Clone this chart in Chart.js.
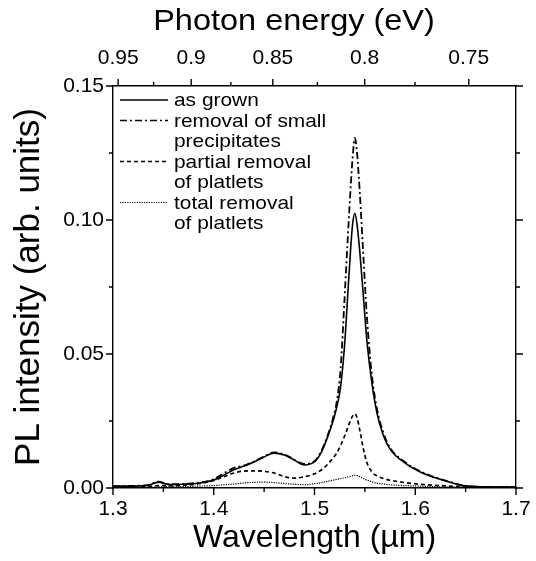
<!DOCTYPE html>
<html>
<head>
<meta charset="utf-8">
<script src="https://cdn.jsdelivr.net/npm/chart.js@4/dist/chart.umd.min.js"></script>
<style>
  html, body { margin: 0; padding: 0; background: #fff; }
  #plot { display: block; }
</style>
</head>
<body>
<canvas id="plot" width="536" height="561"></canvas>
<script>
// Photoluminescence spectra after successive anneal steps
const wavelength = [1.30, 1.32, 1.335, 1.345, 1.355, 1.37, 1.385, 1.40, 1.41, 1.42, 1.43, 1.44, 1.45, 1.46, 1.47, 1.475, 1.48, 1.49, 1.50, 1.507, 1.513, 1.518, 1.522, 1.526, 1.530, 1.533, 1.536, 1.538, 1.540, 1.542, 1.545, 1.548, 1.552, 1.557, 1.562, 1.568, 1.575, 1.59, 1.605, 1.62, 1.634, 1.647, 1.66, 1.68, 1.70];

const asGrown = [0.0007, 0.0007, 0.0010, 0.0022, 0.0013, 0.0014, 0.0018, 0.0030, 0.0048, 0.0068, 0.0082, 0.0097, 0.0116, 0.0130, 0.0123, 0.0115, 0.0104, 0.0086, 0.0098, 0.0135, 0.0190, 0.0245, 0.0300, 0.0380, 0.0540, 0.0720, 0.0900, 0.0990, 0.1025, 0.0990, 0.0880, 0.0740, 0.0550, 0.0390, 0.0280, 0.0200, 0.0145, 0.0093, 0.0060, 0.0038, 0.0022, 0.0009, 0.0005, 0.0004, 0.0003];

const smallPrecipRemoved = [0.0006, 0.0008, 0.0011, 0.0024, 0.0014, 0.0015, 0.0020, 0.0033, 0.0055, 0.0075, 0.0084, 0.0099, 0.0118, 0.0133, 0.0125, 0.0116, 0.0105, 0.0090, 0.0100, 0.0140, 0.0195, 0.0255, 0.0320, 0.0450, 0.0720, 0.0930, 0.1130, 0.1240, 0.1306, 0.1260, 0.1100, 0.0900, 0.0640, 0.0420, 0.0295, 0.0210, 0.0150, 0.0096, 0.0062, 0.0039, 0.0023, 0.0010, 0.0005, 0.0004, 0.0003];

const partialPlateletRemoval = [0.0003, 0.0004, 0.0006, 0.0009, 0.0008, 0.0010, 0.0016, 0.0028, 0.0042, 0.0056, 0.0063, 0.0064, 0.0062, 0.0056, 0.0043, 0.0038, 0.0037, 0.0042, 0.0053, 0.0068, 0.0088, 0.0110, 0.0130, 0.0160, 0.0195, 0.0225, 0.0255, 0.0270, 0.0277, 0.0265, 0.0215, 0.0155, 0.0095, 0.0060, 0.0045, 0.0036, 0.0029, 0.0020, 0.0014, 0.0010, 0.0007, 0.0005, 0.0004, 0.0003, 0.0003];

const totalPlateletRemoval = [0.0002, 0.0002, 0.0003, 0.0004, 0.0004, 0.0005, 0.0007, 0.0009, 0.0012, 0.0015, 0.0019, 0.0021, 0.0022, 0.0020, 0.0017, 0.0015, 0.0014, 0.0012, 0.0016, 0.0020, 0.0025, 0.0029, 0.0032, 0.0035, 0.0038, 0.0041, 0.0044, 0.0046, 0.0047, 0.0046, 0.0042, 0.0036, 0.0030, 0.0023, 0.0018, 0.0015, 0.0012, 0.0009, 0.0007, 0.0005, 0.0004, 0.0003, 0.0003, 0.0002, 0.0002];

// Axis ticks
const wavelengthTicks = [1.3, 1.4, 1.5, 1.6, 1.7];
const wavelengthMinor = [1.35, 1.45, 1.55, 1.65];
const energyTicks = [0.95, 0.9, 0.85, 0.8, 0.75];
const energyLabels = ['0.95', '0.9', '0.85', '0.8', '0.75'];
const energyMinor = [0.925, 0.875, 0.825, 0.775];
const intensityTicks = [0.00, 0.05, 0.10, 0.15];
const intensityLabels = ['0.00', '0.05', '0.10', '0.15'];
const intensityMinor = [0.025, 0.075, 0.125];

// Legend entries (text lines per entry)
const seriesNames = [
  ['as grown'],
  ['removal of small', 'precipitates'],
  ['partial removal', 'of platlets'],
  ['total removal', 'of platlets']
];

const HC = 1.23984; // eV·µm
const FONT = '"Liberation Sans", Arial, Helvetica, sans-serif';

const styles = [
  { dash: [], width: 1.6 },
  { dash: [7, 3, 2, 3], width: 1.8 },
  { dash: [4, 3], width: 1.7 },
  { dash: [1.2, 1.2], width: 1.2 }
];

const seriesValues = [asGrown, smallPrecipRemoved, partialPlateletRemoval, totalPlateletRemoval];

const datasets = seriesValues.map((vals, i) => ({
  label: seriesNames[i].join(' '),
  data: wavelength.map((w, k) => ({ x: w, y: vals[k] })),
  borderColor: '#000',
  borderWidth: styles[i].width,
  borderDash: styles[i].dash,
  pointRadius: 0,
  fill: false,
  cubicInterpolationMode: 'monotone',
  xAxisID: 'x',
  yAxisID: 'y'
}));

// Outward tick marks (major + minor) on all four sides
const tickMarks = {
  id: 'tickMarks',
  afterDraw(chart) {
    const ctx = chart.ctx;
    const { x, xTop, y, yRight } = chart.scales;
    const a = chart.chartArea;
    ctx.save();
    ctx.strokeStyle = '#000';
    ctx.lineWidth = 1.4;
    const MAJ = 7, MIN = 4;
    ctx.beginPath();
    wavelengthTicks.forEach(v => { const p = x.getPixelForValue(v); ctx.moveTo(p, a.bottom); ctx.lineTo(p, a.bottom + MAJ); });
    wavelengthMinor.forEach(v => { const p = x.getPixelForValue(v); ctx.moveTo(p, a.bottom); ctx.lineTo(p, a.bottom + MIN); });
    energyTicks.forEach(e => { const p = xTop.getPixelForValue(HC / e); ctx.moveTo(p, a.top); ctx.lineTo(p, a.top - MAJ); });
    energyMinor.forEach(e => { const p = xTop.getPixelForValue(HC / e); ctx.moveTo(p, a.top); ctx.lineTo(p, a.top - MIN); });
    intensityTicks.forEach(v => { const p = y.getPixelForValue(v); ctx.moveTo(a.left, p); ctx.lineTo(a.left - MAJ, p); });
    intensityMinor.forEach(v => { const p = y.getPixelForValue(v); ctx.moveTo(a.left, p); ctx.lineTo(a.left - MIN, p); });
    intensityTicks.forEach(v => { const p = yRight.getPixelForValue(v); ctx.moveTo(a.right, p); ctx.lineTo(a.right + MAJ, p); });
    intensityMinor.forEach(v => { const p = yRight.getPixelForValue(v); ctx.moveTo(a.right, p); ctx.lineTo(a.right + MIN, p); });
    ctx.stroke();

    // Top axis title
    ctx.fillStyle = '#000';
    ctx.font = '29px ' + FONT;
    ctx.textAlign = 'center';
    ctx.textBaseline = 'alphabetic';
    ctx.translate(294, 30);
    ctx.scale(1.12, 1);
    ctx.fillText('Photon energy (eV)', 0, 0);
    ctx.restore();
  }
};

// Line-style legend inside the plot area
const lineLegend = {
  id: 'lineLegend',
  afterDraw(chart) {
    const ctx = chart.ctx;
    const a = chart.chartArea;
    const x0 = a.left + 7, x1 = a.left + 55, tx = a.left + 61;
    const rowH = 20.5;
    let yRow = a.top + 14;
    ctx.save();
    ctx.fillStyle = '#000';
    ctx.strokeStyle = '#000';
    ctx.font = '19px ' + FONT;
    ctx.textBaseline = 'middle';
    ctx.textAlign = 'left';
    seriesNames.forEach((lines, i) => {
      ctx.lineWidth = styles[i].width - 0.2;
      ctx.setLineDash(styles[i].dash);
      ctx.beginPath();
      ctx.moveTo(x0, yRow);
      ctx.lineTo(x1, yRow);
      ctx.stroke();
      ctx.setLineDash([]);
      lines.forEach(t => {
        ctx.save();
        ctx.translate(tx, yRow);
        ctx.scale(1.1, 1);
        ctx.fillText(t, 0, 1);
        ctx.restore();
        yRow += rowH;
      });
    });
    ctx.restore();
  }
};

const noGrid = { display: false, drawTicks: true, tickLength: 7 };
const border = { display: true, color: '#000', width: 1.4 };

new Chart(document.getElementById('plot'), {
  type: 'line',
  data: { datasets },
  plugins: [tickMarks, lineLegend],
  options: {
    responsive: false,
    animation: false,
    layout: { padding: 0 },
    plugins: { legend: { display: false }, tooltip: { enabled: false } },
    scales: {
      x: {
        type: 'linear', position: 'bottom', min: 1.3, max: 1.7,
        grid: noGrid, border,
        afterBuildTicks: s => { s.ticks = wavelengthTicks.map(v => ({ value: v })); },
        afterFit: s => { s.height = 73; },
        ticks: {
          autoSkip: false, maxRotation: 0, color: '#000', padding: 2,
          font: { family: FONT, size: 21 },
          callback: v => v.toFixed(1)
        },
        title: {
          display: true, text: 'Wavelength (\u00b5m)', color: '#000',
          font: { family: FONT, size: 32, lineHeight: 1 },
          padding: { top: 0, bottom: 7 }
        }
      },
      xTop: {
        type: 'linear', position: 'top', min: 1.3, max: 1.7,
        grid: noGrid, border,
        afterBuildTicks: s => { s.ticks = energyTicks.map(e => ({ value: HC / e })); },
        afterFit: s => { s.height = 86; },
        ticks: {
          autoSkip: false, maxRotation: 0, color: '#000', padding: 8,
          font: { family: FONT, size: 21 },
          callback: (v, i) => energyLabels[i]
        }
      },
      y: {
        type: 'linear', position: 'left', min: 0, max: 0.15,
        grid: noGrid, border,
        afterBuildTicks: s => { s.ticks = intensityTicks.map(v => ({ value: v })); },
        afterFit: s => { s.width = 113; },
        ticks: {
          autoSkip: false, color: '#000', padding: 2,
          font: { family: FONT, size: 21 },
          callback: (v, i) => intensityLabels[i]
        },
        title: {
          display: true, text: 'PL intensity (arb. units)', color: '#000',
          font: { family: FONT, size: 35, lineHeight: 1 },
          padding: { top: 12, bottom: 0 }
        }
      },
      yRight: {
        type: 'linear', position: 'right', min: 0, max: 0.15,
        grid: { display: false, drawTicks: false }, border,
        afterBuildTicks: s => { s.ticks = intensityTicks.map(v => ({ value: v })); },
        afterFit: s => { s.width = 20; },
        ticks: { display: false }
      }
    }
  }
});
</script>
</body>
</html>
